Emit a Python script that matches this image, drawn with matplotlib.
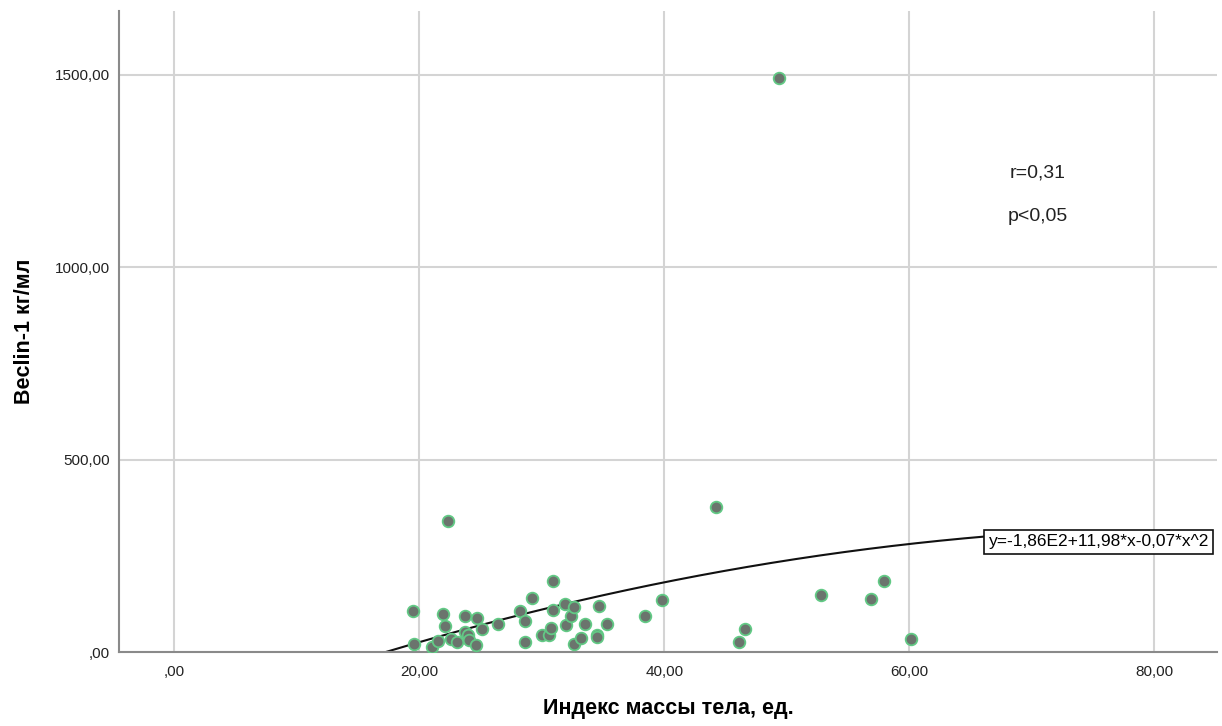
import matplotlib.pyplot as plt
import numpy as np
from matplotlib.ticker import FuncFormatter

plt.rcParams['font.family'] = ['Liberation Sans', 'DejaVu Sans']

# ИМТ и Beclin-1 по пациентам
imt = [22.34, 19.5, 19.6, 21.0, 21.55, 21.9, 22.07, 22.6, 23.1, 23.7, 23.7, 24.0,
       24.1, 24.6, 24.7, 25.1, 26.45, 28.2, 28.6, 28.6, 29.2, 30.0, 30.6, 30.75,
       30.9, 30.9, 31.9, 32.0, 32.4, 32.6, 32.65, 33.2, 33.5, 34.5, 34.5, 34.7,
       35.3, 38.4, 39.8, 44.2, 46.1, 46.6, 52.8, 56.9, 57.9, 60.1, 49.33]
beclin = [340, 106.6, 20.8, 13, 28.6, 99.6, 67.6, 33, 26, 92.8, 52.8, 43,
          31, 17.3, 89, 59, 72.8, 106.6, 79.8, 26, 140, 45, 45, 63,
          184.6, 109, 124.8, 70, 94.4, 117, 20.8, 36.4, 73.6, 44, 38, 120,
          72, 94.4, 134, 377.7, 25, 60.6, 148, 137.8, 183.7, 34.6, 1491]

# квадратичная модель: y = b0 + b1*x + b2*x^2
b0, b1, b2 = -186.0, 11.98, -0.07
x_ticks = [0, 20, 40, 60, 80]
y_ticks = [0, 500, 1000, 1500]


def spss_fmt(v, pos):
    s = f"{v:.2f}".replace('.', ',')
    if s.startswith('0,'):
        s = s[1:]
    return s


fig = plt.figure(figsize=(12.22, 7.26), dpi=100)
ax = fig.add_axes([0.0974, 0.1019, 0.8985, 0.8829])

ax.set_xlim(-4.5, 85.1)
ax.set_ylim(0, 1666)
ax.set_xticks(x_ticks)
ax.set_yticks(y_ticks)
ax.xaxis.set_major_formatter(FuncFormatter(spss_fmt))
ax.yaxis.set_major_formatter(FuncFormatter(spss_fmt))
ax.grid(True, color='#d4d4d4', linewidth=1.5)
ax.set_axisbelow(True)

for side in ['top', 'right']:
    ax.spines[side].set_visible(False)
for side in ['left', 'bottom']:
    ax.spines[side].set_color('#8a8a8a')
    ax.spines[side].set_linewidth(1.5)

ax.tick_params(length=0, labelsize=11, colors='#222222')
ax.tick_params(axis='x', pad=9)
ax.tick_params(axis='y', pad=6.5)

# линия регрессии от нуля функции до подписи
x0 = (-b1 + np.sqrt(b1**2 - 4 * b2 * b0)) / (2 * b2)
xs = np.linspace(x0, 66.2, 200)
ax.plot(xs, b0 + b1 * xs + b2 * xs**2, color='#111111', linewidth=1.5, zorder=2)

ax.scatter(imt, beclin, s=70, color='#6b746d', edgecolors='#62c985',
           linewidths=1.3, zorder=3)

ax.text(66.45, 286.7, 'y=-1,86E2+11,98*x-0,07*x^2', fontsize=12.5,
        ha='left', va='center', zorder=4,
        bbox=dict(boxstyle='square,pad=0.25', facecolor='white',
                  edgecolor='#111111', linewidth=1.2))

ax.text(70.45, 1246, 'r=0,31', fontsize=14, ha='center', va='center', color='#222222')
ax.text(70.45, 1131, 'p<0,05', fontsize=14, ha='center', va='center', color='#222222')

ax.set_xlabel('Индекс массы тела, ед.', fontsize=15.5, fontweight='bold', labelpad=14)
ax.set_ylabel('Beclin-1 кг/мл', fontsize=15.5, fontweight='bold', labelpad=14)

fig.savefig('out.png', dpi=100)
